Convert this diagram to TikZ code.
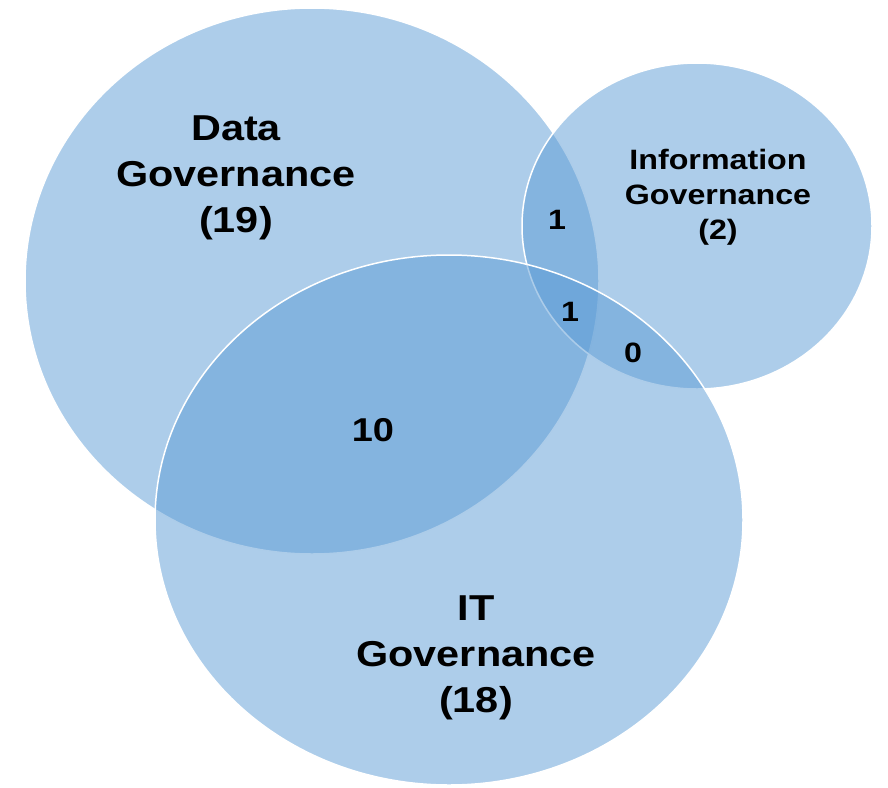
\documentclass[tikz,border=0pt]{standalone}
\usepackage{fontspec}
\newfontfamily\vennfont[FakeStretch=1.15]{Liberation Sans}
\definecolor{vennblue}{HTML}{5B9BD5}

\begin{document}
\begin{tikzpicture}[x=0.5pt, y=-0.5pt, every node/.style={inner sep=0pt, align=center}, vennset/.style={fill=vennblue, fill opacity=0.5, draw=white, line width=0.75pt}, biglabel/.style={font=\vennfont\bfseries\fontsize{18}{23}\selectfont}, smalllabel/.style={font=\vennfont\bfseries\fontsize{14}{17.5}\selectfont}]
    \useasboundingbox (0,0) rectangle (888,787);

    % Sets
    \draw[vennset] (312,281) ellipse [x radius=287, y radius=273];
    \draw[vennset] (697,226) ellipse [x radius=175, y radius=163];
    \draw[vennset] (449,520) ellipse [x radius=294, y radius=265];

    % Set labels
    \node (data) [biglabel] at (236,178) {Data\\Governance\\(19)};
    \node (info) [smalllabel] at (718,197) {Information\\Governance\\(2)};
    \node (it) [biglabel] at (476,658) {IT\\Governance\\(18)};

    % Overlap counts
    \node (dataIT) [font=\vennfont\bfseries\fontsize{16.5}{20}\selectfont] at (373,430) {10};
    \node (dataInfo) [smalllabel] at (557,220) {1};
    \node (all) [smalllabel] at (570,312) {1};
    \node (infoIT) [smalllabel] at (633,353) {0};

\end{tikzpicture}
\end{document}
